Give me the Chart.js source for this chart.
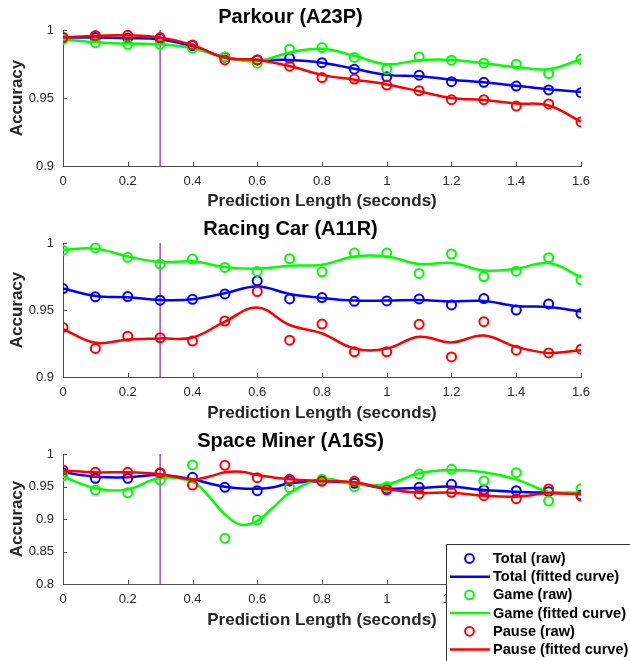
<!DOCTYPE html>
<html>
<head>
<meta charset="utf-8">
<script src="https://cdn.jsdelivr.net/npm/chart.js@4.4.0/dist/chart.umd.min.js"></script>
<style>
  body { margin: 0; background: #fff; }
  .wrap { position: absolute; left: 0; width: 630px; }
  canvas { display: block; }
</style>
</head>
<body>
<div class="wrap" style="top:0;height:212px"><canvas id="parkour" width="630" height="212"></canvas></div>
<div class="wrap" style="top:212px;height:212px"><canvas id="racing" width="630" height="212"></canvas></div>
<div class="wrap" style="top:424px;height:237px"><canvas id="space" width="630" height="237"></canvas></div>
<script>
// data ++++++++++++++++
const predLength = [0, 0.1, 0.2, 0.3, 0.4, 0.5, 0.6, 0.7, 0.8, 0.9, 1, 1.1, 1.2, 1.3, 1.4, 1.5, 1.6];
const xTicks = [0, 0.2, 0.4, 0.6, 0.8, 1, 1.2, 1.4, 1.6];
const xTickLabels = ['0', '0.2', '0.4', '0.6', '0.8', '1', '1.2', '1.4', '1.6'];
const markerX = 0.3;

const seriesNames = ['Total', 'Game', 'Pause'];
const seriesColors = ['#0000ff', '#00ff00', '#ff0000'];

// Parkour (A23P)
const parkourYTicks = [0.9, 0.95, 1];
const parkourYTickLabels = ['0.9', '0.95', '1'];
const parkourTotalRaw = [0.9944, 0.9945, 0.9942, 0.9935, 0.9885, 0.980, 0.978, 0.9793, 0.976, 0.9712, 0.9656, 0.9668, 0.962, 0.9615, 0.9588, 0.9559, 0.9539];
const parkourGameRaw = [0.9932, 0.9907, 0.9895, 0.9895, 0.9866, 0.9802, 0.9756, 0.9859, 0.9871, 0.9798, 0.9712, 0.9802, 0.9778, 0.9756, 0.9749, 0.968, 0.9785];
const parkourPauseRaw = [0.9944, 0.9959, 0.9961, 0.9944, 0.989, 0.978, 0.978, 0.9734, 0.965, 0.9639, 0.9595, 0.9554, 0.9488, 0.9488, 0.9441, 0.9456, 0.9324];
const parkourFitX = predLength;
const parkourTotalFit = [0.9944, 0.9945, 0.994, 0.993, 0.988, 0.980, 0.978, 0.978, 0.976, 0.9715, 0.967, 0.966, 0.9635, 0.9615, 0.959, 0.9565, 0.9545];
const parkourGameFit = [0.9932, 0.991, 0.990, 0.9895, 0.9865, 0.980, 0.977, 0.9835, 0.9862, 0.981, 0.9748, 0.9778, 0.978, 0.9756, 0.9728, 0.9712, 0.9785];
const parkourPauseFit = [0.9944, 0.9958, 0.996, 0.9945, 0.989, 0.9795, 0.978, 0.9735, 0.967, 0.9635, 0.96, 0.955, 0.950, 0.9485, 0.946, 0.9445, 0.9325];

// Racing Car (A11R)
const racingYTicks = [0.9, 0.95, 1];
const racingYTickLabels = ['0.9', '0.95', '1'];
const racingTotalRaw = [0.966, 0.9598, 0.96, 0.9573, 0.958, 0.962, 0.9718, 0.9583, 0.9593, 0.9565, 0.9568, 0.9583, 0.9538, 0.9585, 0.95, 0.9545, 0.9473];
const racingGameRaw = [0.9945, 0.9963, 0.9893, 0.9843, 0.988, 0.9818, 0.9788, 0.9883, 0.9785, 0.9925, 0.9925, 0.9773, 0.9918, 0.975, 0.979, 0.989, 0.9725];
const racingPauseRaw = [0.937, 0.9213, 0.9305, 0.9293, 0.9268, 0.9418, 0.9638, 0.9275, 0.9395, 0.9188, 0.9188, 0.9393, 0.915, 0.9413, 0.92, 0.918, 0.9208];
const racingFitX = predLength;
const racingTotalFit = [0.966, 0.9605, 0.9595, 0.9575, 0.958, 0.9625, 0.9675, 0.962, 0.959, 0.957, 0.957, 0.9575, 0.9563, 0.9568, 0.953, 0.9523, 0.9488];
const racingGameFit = [0.995, 0.9958, 0.99, 0.9858, 0.9863, 0.982, 0.9808, 0.983, 0.9838, 0.99, 0.99, 0.9843, 0.985, 0.9795, 0.9808, 0.985, 0.9745];
const racingPauseFit = [0.9358, 0.9255, 0.928, 0.9288, 0.9295, 0.9413, 0.9518, 0.9388, 0.9325, 0.9213, 0.9213, 0.93, 0.9258, 0.931, 0.9225, 0.918, 0.92];

// Space Miner (A16S)
const spaceYTicks = [0.8, 0.85, 0.9, 0.95, 1];
const spaceYTickLabels = ['0.8', '0.85', '0.9', '0.95', '1'];
const spaceTotalRaw = [0.9713, 0.9626, 0.9626, 0.9703, 0.9641, 0.9487, 0.9436, 0.9585, 0.959, 0.9549, 0.9462, 0.9487, 0.9533, 0.9446, 0.9436, 0.942, 0.9369];
const spaceGameRaw = [0.9662, 0.9446, 0.9405, 0.96, 0.9831, 0.8703, 0.8985, 0.9482, 0.961, 0.9497, 0.9497, 0.9692, 0.9764, 0.9585, 0.9713, 0.9277, 0.9467];
const spacePauseRaw = [0.9754, 0.9718, 0.9718, 0.9713, 0.9523, 0.9826, 0.9636, 0.961, 0.958, 0.958, 0.9446, 0.9385, 0.941, 0.9359, 0.9313, 0.9462, 0.9354];
const spaceFitX = [0, 0.1, 0.2, 0.3, 0.4, 0.45, 0.5, 0.55, 0.6, 0.65, 0.7, 0.8, 0.9, 1, 1.1, 1.2, 1.3, 1.4, 1.5, 1.6];
const spaceTotalFit = [0.9718, 0.9651, 0.9641, 0.9677, 0.961, 0.9549, 0.9497, 0.947, 0.9467, 0.949, 0.9549, 0.958, 0.955, 0.947, 0.948, 0.9497, 0.9446, 0.942, 0.9405, 0.9395];
const spaceGameFit = [0.9651, 0.9472, 0.9456, 0.963, 0.957, 0.935, 0.907, 0.891, 0.897, 0.918, 0.94, 0.9615, 0.9538, 0.9533, 0.9703, 0.9754, 0.9718, 0.961, 0.942, 0.9405];
const spacePauseFit = [0.9744, 0.9718, 0.9718, 0.9687, 0.961, 0.965, 0.9718, 0.9728, 0.9677, 0.964, 0.961, 0.9585, 0.9564, 0.9462, 0.9405, 0.9405, 0.9359, 0.9344, 0.9395, 0.938];

const FONT = "'Liberation Sans', Arial, Helvetica, sans-serif";
const axisColor = '#4d4d4d';
const textColor = '#262626';

// inward tick marks + the purple marker line
const matlabAxes = {
    id: 'matlabAxes',
    beforeDatasetsDraw(chart) {
        const ctx = chart.ctx;
        const area = chart.chartArea;
        const px = chart.scales.x.getPixelForValue(markerX);
        ctx.save();
        ctx.strokeStyle = '#9a4db8';
        ctx.lineWidth = 1.5;
        ctx.beginPath();
        ctx.moveTo(px, area.top);
        ctx.lineTo(px, area.bottom);
        ctx.stroke();
        ctx.restore();
    },
    afterDraw(chart) {
        const ctx = chart.ctx;
        const xs = chart.scales.x, ys = chart.scales.y;
        const area = chart.chartArea;
        ctx.save();
        ctx.strokeStyle = axisColor;
        ctx.lineWidth = 1;
        ctx.beginPath();
        xs.ticks.forEach(t => {
            const p = Math.round(xs.getPixelForValue(t.value)) + 0.5;
            ctx.moveTo(p, area.bottom);
            ctx.lineTo(p, area.bottom - 4);
        });
        ys.ticks.forEach(t => {
            const p = Math.round(ys.getPixelForValue(t.value)) + 0.5;
            ctx.moveTo(area.left, p);
            ctx.lineTo(area.left + 4, p);
        });
        ctx.stroke();
        ctx.restore();
    }
};

// boxed legend sitting over the bottom right corner
const boxLegend = {
    id: 'boxLegend',
    afterDraw(chart) {
        const ctx = chart.ctx;
        const x0 = 446, y0 = 120, firstRow = 134.5, rowH = 18.2;
        ctx.save();
        ctx.fillStyle = '#fff';
        ctx.fillRect(x0, y0, chart.width - x0 + 2, chart.height - y0 + 2);
        ctx.strokeStyle = '#333';
        ctx.lineWidth = 1;
        ctx.strokeRect(x0 + 0.5, y0 + 0.5, chart.width, chart.height);
        ctx.font = 'bold 14.6px ' + FONT;
        ctx.textBaseline = 'middle';
        ctx.textAlign = 'left';
        chart.data.datasets.forEach((ds, i) => {
            const y = firstRow + i * rowH;
            ctx.strokeStyle = ds.borderColor;
            if (ds.showLine) {
                ctx.lineWidth = 2.5;
                ctx.beginPath();
                ctx.moveTo(450, y);
                ctx.lineTo(490, y);
                ctx.stroke();
            } else {
                ctx.lineWidth = 2;
                ctx.beginPath();
                ctx.arc(469.5, y, 4.4, 0, Math.PI * 2);
                ctx.stroke();
            }
            ctx.fillStyle = '#000';
            ctx.fillText(ds.label, 493, y + 0.5);
        });
        ctx.restore();
    }
};

function makeDatasets(raws, fitX, fits){
    const out = [];
    seriesNames.forEach((name, i) => {
        out.push({
            label: name + ' (raw)',
            data: predLength.map((x, j) => ({x: x, y: raws[i][j]})),
            showLine: false,
            borderColor: seriesColors[i],
            pointBorderColor: seriesColors[i],
            pointBackgroundColor: 'rgba(0,0,0,0)',
            pointRadius: 4.5,
            pointHoverRadius: 4.5,
            pointBorderWidth: 2,
            order: 5 - i * 2
        });
        out.push({
            label: name + ' (fitted curve)',
            data: fitX.map((x, j) => ({x: x, y: fits[i][j]})),
            showLine: true,
            borderColor: seriesColors[i],
            borderWidth: 2.5,
            pointRadius: 0,
            tension: 0.4,
            order: 4 - i * 2
        });
    });
    return out;
}

function makeChart(id, title, titlePad, yMin, yMax, yTicks, yTickLabels, datasets, bottomPad, xHeight, extraPlugins){
    const ctx = document.getElementById(id).getContext('2d');
    return new Chart(ctx, {
        type: 'scatter',
        data: { datasets: datasets },
        plugins: [matlabAxes].concat(extraPlugins || []),
        options: {
            responsive: false,
            animation: false,
            events: [],
            layout: { padding: { left: 0, right: 49, top: 0, bottom: bottomPad } },
            plugins: {
                legend: { display: false },
                tooltip: { enabled: false },
                title: {
                    display: true,
                    text: title,
                    color: '#000',
                    font: { family: FONT, size: 20, weight: 'bold', lineHeight: 1.2 },
                    padding: titlePad
                }
            },
            scales: {
                x: {
                    type: 'linear',
                    min: 0,
                    max: 1.6,
                    afterBuildTicks: s => { s.ticks = xTicks.map(v => ({value: v})); },
                    afterFit: s => { s.height = xHeight; },
                    grid: { display: false, drawTicks: false },
                    border: { display: true, color: axisColor, width: 1 },
                    ticks: {
                        callback: (v, i) => xTickLabels[i],
                        color: textColor,
                        font: { family: FONT, size: 13 },
                        padding: 8,
                        maxRotation: 0,
                        autoSkip: false
                    },
                    title: {
                        display: true,
                        text: 'Prediction Length (seconds)',
                        color: textColor,
                        font: { family: FONT, size: 17, weight: 'bold', lineHeight: 1.2 },
                        padding: { top: 0, bottom: 0.8 }
                    }
                },
                y: {
                    type: 'linear',
                    min: yMin,
                    max: yMax,
                    afterBuildTicks: s => { s.ticks = yTicks.map(v => ({value: v})); },
                    afterFit: s => { s.width = 63; },
                    grid: { display: false, drawTicks: false },
                    border: { display: true, color: axisColor, width: 1 },
                    ticks: {
                        callback: (v, i) => yTickLabels[i],
                        color: textColor,
                        font: { family: FONT, size: 13 },
                        padding: 9
                    },
                    title: {
                        display: true,
                        text: 'Accuracy',
                        color: textColor,
                        font: { family: FONT, size: 17, weight: 'bold', lineHeight: 1.2 },
                        padding: { top: 7.5, bottom: 0 }
                    }
                }
            }
        }
    });
}

makeChart('parkour', 'Parkour (A23P)', {top: 5.5, bottom: 0.5}, 0.9, 1, parkourYTicks, parkourYTickLabels,
    makeDatasets([parkourTotalRaw, parkourGameRaw, parkourPauseRaw], parkourFitX, [parkourTotalFit, parkourGameFit, parkourPauseFit]),
    0, 46);

makeChart('racing', 'Racing Car (A11R)', {top: 5.2, bottom: 1.8}, 0.9, 1, racingYTicks, racingYTickLabels,
    makeDatasets([racingTotalRaw, racingGameRaw, racingPauseRaw], racingFitX, [racingTotalFit, racingGameFit, racingPauseFit]),
    0, 47);

makeChart('space', 'Space Miner (A16S)', {top: 5, bottom: 1}, 0.8, 1, spaceYTicks, spaceYTickLabels,
    makeDatasets([spaceTotalRaw, spaceGameRaw, spacePauseRaw], spaceFitX, [spaceTotalFit, spaceGameFit, spacePauseFit]),
    30, 47, [boxLegend]);
</script>
</body>
</html>
